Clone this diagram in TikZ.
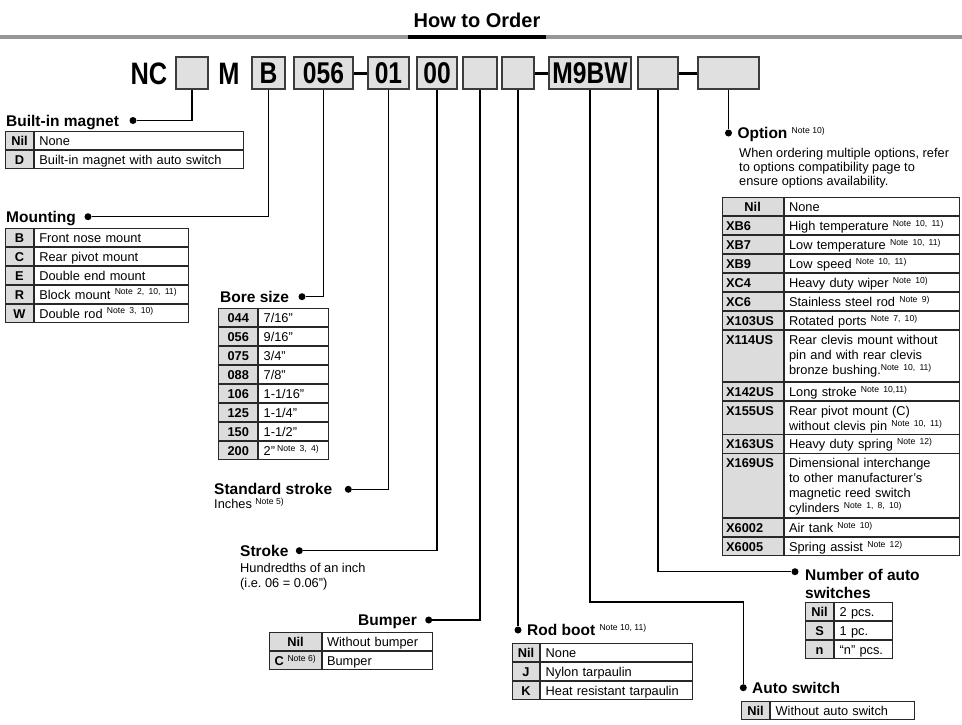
\documentclass[tikz,border=0pt]{standalone}
\usepackage{fontspec}
\setmainfont{Liberation Sans}
\newfontfamily\hdrfont[FakeStretch=0.82]{Liberation Sans}
\usetikzlibrary{positioning}
\definecolor{rulegray}{RGB}{150,150,150}
\definecolor{boxfill}{RGB}{224,224,224}
\definecolor{boxedge}{RGB}{60,60,60}
\definecolor{codegray}{RGB}{220,220,220}
\definecolor{cellline}{RGB}{40,40,40}
\newcommand{\bodysize}{\fontsize{12.8}{15}\selectfont}
\newcommand{\titlesize}{\fontsize{15.5}{18.3}\selectfont}
\newcommand{\notetxt}[1]{\textsuperscript{\fontsize{8.6}{9}\selectfont\mdseries Note #1}}
\frenchspacing

\begin{document}
\begin{tikzpicture}[x=1pt, y=-1pt,
  hdrbox/.style={draw=boxedge, fill=boxfill, line width=1.3, minimum width=#1,
    minimum height=32, inner sep=0, font=\hdrfont\bfseries\fontsize{30}{30}\selectfont},
  hdrtxt/.style={inner sep=0, font=\hdrfont\bfseries\fontsize{31}{31}\selectfont},
  hdrjoin/.style={line width=3},
  link/.style={line width=1.5},
  dot/.style={circle, fill, inner sep=0, minimum size=7},
  title/.style={inner sep=0, font=\titlesize\bfseries},
  plain/.style={inner sep=0, align=left, font=\bodysize},
  cell/.style={draw=cellline, line width=0.9, inner ysep=0, minimum height=18.1, font=\bodysize},
  code/.style={cell, fill=codegray, minimum width=#1, inner xsep=2,
    text height=11, text depth=1, font=\bodysize\bfseries},
  desc/.style={cell, text width=#1, inner xsep=5, align=left, text height=11, text depth=1},
  desctall/.style={cell, text width=#1, inner xsep=5, align=left},
  optcode/.style={cell, fill=codegray, text width=53, inner xsep=4, align=left,
    text height=11, text depth=1, font=\bodysize\bfseries},
  tall/.style 2 args={minimum height=#1, text height=14, text depth=#2},
]
  \path[fill=white, use as bounding box] (0,0) rectangle (962,724);

  % Heading
  \node[font=\bfseries\fontsize{20}{20}\selectfont, inner sep=0] (head) at (477,20) {How to Order};
  \draw[line width=4, rulegray] (0,37) -- (962,37);
  \draw[line width=4] (408,37) -- (546,37);

  % Part number
  \node[hdrtxt] (nc) at (149,74) {NC};
  \node[hdrbox=32] (bmag) at (192,73) {};
  \node[hdrtxt] (m) at (229,74) {M};
  \node[hdrbox=33] (bmnt) at (268.5,73) {B};
  \node[hdrbox=59] (bbore) at (323.5,73) {056};
  \node[hdrbox=41] (bstd) at (388.5,73) {01};
  \node[hdrbox=40] (bstk) at (437,73) {00};
  \node[hdrbox=34] (bbmp) at (480,73) {};
  \node[hdrbox=32] (bboot) at (518,73) {};
  \node[hdrbox=82] (bsw) at (590,73) {M9BW};
  \node[hdrbox=40] (bnum) at (658,73) {};
  \node[hdrbox=61] (bopt) at (728.5,73) {};
  \draw[hdrjoin] (bbore.east) -- (bstd.west);
  \draw[hdrjoin] (bboot.east) -- (bsw.west);
  \draw[hdrjoin] (bnum.east) -- (bopt.west);

  % Bullets
  \node[dot] (dmag) at (133,120.5) {};
  \node[dot] (dmnt) at (88,216.7) {};
  \node[dot] (dbore) at (302,296.7) {};
  \node[dot] (dstd) at (348.3,489.3) {};
  \node[dot] (dstk) at (299.3,550.7) {};
  \node[dot] (dbmp) at (428.7,620) {};
  \node[dot] (dboot) at (518,630) {};
  \node[dot] (dsw) at (743.3,687.7) {};
  \node[dot] (dnum) at (795,571.7) {};
  \node[dot] (dopt) at (728.5,133) {};
  \coordinate (swbend) at (590,602);

  % Leaders
  \draw[link] (bmag.south) |- (dmag);
  \draw[link] (bmnt.south) |- (dmnt);
  \draw[link] (bbore.south) |- (dbore);
  \draw[link] (bstd.south) |- (dstd);
  \draw[link] (bstk.south) |- (dstk);
  \draw[link] (bbmp.south) |- (dbmp);
  \draw[link] (bboot.south) -- (dboot);
  \draw[link] (bsw.south) -- (swbend) -| (dsw);
  \draw[link] (bnum.south) |- (dnum);
  \draw[link] (bopt.south) -- (dopt);

  % Titles
  \node[title, anchor=base west] (tmag) at (6,126.2) {Built-in magnet};
  \node[title, anchor=base west] (tmnt) at (6,222.2) {Mounting};
  \node[title, anchor=base west] (tbore) at (220,302.2) {Bore size};
  \node[title, anchor=base west] (tstd) at (214,494.8) {Standard stroke};
  \node[title, anchor=base west] (tstk) at (240,556.2) {Stroke};
  \node[title, anchor=base east] (tbmp) at (417,625.5) {Bumper};
  \node[title, anchor=base west] (tboot) at (527,635.5) {Rod boot \notetxt{10, 11)}};
  \node[title, anchor=base west] (tsw) at (752,693) {Auto switch};
  \node[title, anchor=base west, align=left] (tnum) at (805,598.8) {Number of auto\\switches};
  \node[title, anchor=base west] (topt) at (737.3,138.5) {Option \notetxt{10)}};

  % Notes
  \node[plain, anchor=base west, font=\fontsize{12.8}{14}\selectfont] (optnote) at (739,185.6)
    {When ordering multiple options, refer\\to options compatibility page to\\ensure options availability.};
  \node[plain, anchor=base west] (stdnote) at (214,508.6) {Inches \notetxt{5)}};
  \node[plain, anchor=base west] (stknote) at (240,587.9) {Hundredths of an inch\\(i.e. 06 = 0.06")};

  % Built-in magnet
  \node[code=28, anchor=north west] (mag1) at (5,131) {Nil};
  \node[desc=199, right=0pt of mag1] {None};
  \node[code=28, below=0pt of mag1] (mag2) {D};
  \node[desc=199, right=0pt of mag2] {Built-in magnet with auto switch};

  % Mounting
  \node[code=28, anchor=north west] (mnt1) at (5,227.7) {B};
  \node[desc=144, right=0pt of mnt1] {Front nose mount};
  \node[code=28, below=0pt of mnt1] (mnt2) {C};
  \node[desc=144, right=0pt of mnt2] {Rear pivot mount};
  \node[code=28, below=0pt of mnt2] (mnt3) {E};
  \node[desc=144, right=0pt of mnt3] {Double end mount};
  \node[code=28, below=0pt of mnt3] (mnt4) {R};
  \node[desc=144, right=0pt of mnt4] {Block mount \notetxt{2, 10, 11)}};
  \node[code=28, below=0pt of mnt4] (mnt5) {W};
  \node[desc=144, right=0pt of mnt5] {Double rod \notetxt{3, 10)}};

  % Bore size
  \node[code=39, anchor=north west] (bore1) at (218.3,308.3) {044};
  \node[desc=59.4, right=0pt of bore1] {7/16"};
  \node[code=39, below=0pt of bore1] (bore2) {056};
  \node[desc=59.4, right=0pt of bore2] {9/16"};
  \node[code=39, below=0pt of bore2] (bore3) {075};
  \node[desc=59.4, right=0pt of bore3] {3/4"};
  \node[code=39, below=0pt of bore3] (bore4) {088};
  \node[desc=59.4, right=0pt of bore4] {7/8"};
  \node[code=39, below=0pt of bore4] (bore5) {106};
  \node[desc=59.4, right=0pt of bore5] {1-1/16"};
  \node[code=39, below=0pt of bore5] (bore6) {125};
  \node[desc=59.4, right=0pt of bore6] {1-1/4"};
  \node[code=39, below=0pt of bore6] (bore7) {150};
  \node[desc=59.4, right=0pt of bore7] {1-1/2"};
  \node[code=39, below=0pt of bore7] (bore8) {200};
  \node[desc=59.4, right=0pt of bore8] {2"\,\notetxt{3, 4)}};

  % Bumper
  \node[code=51.4, anchor=north west] (bmp1) at (269.3,632) {Nil};
  \node[desc=100.3, right=0pt of bmp1] {Without bumper};
  \node[code=51.4, below=0pt of bmp1] (bmp2) {C \notetxt{6)}};
  \node[desc=100.3, right=0pt of bmp2] {Bumper};

  % Rod boot
  \node[code=27.6, anchor=north west] (boot1) at (511.7,643.3) {Nil};
  \node[desc=141.7, right=0pt of boot1] {None};
  \node[code=27.6, below=0pt of boot1] (boot2) {J};
  \node[desc=141.7, right=0pt of boot2] {Nylon tarpaulin};
  \node[code=27.6, below=0pt of boot2] (boot3) {K};
  \node[desc=141.7, right=0pt of boot3] {Heat resistant tarpaulin};

  % Number of auto switches
  \node[code=28.3, anchor=north west] (num1) at (805,601.7) {Nil};
  \node[desc=47.7, right=0pt of num1] {2 pcs.};
  \node[code=28.3, below=0pt of num1] (num2) {S};
  \node[desc=47.7, right=0pt of num2] {1 pc.};
  \node[code=28.3, below=0pt of num2] (num3) {n};
  \node[desc=47.7, right=0pt of num3] {``n'' pcs.};

  % Auto switch
  \node[code=28.6, anchor=north west] (sw1) at (740.7,700.7) {Nil};
  \node[desc=134, right=0pt of sw1] {Without auto switch};

  % Option
  \node[optcode, align=center, anchor=north west] (opt1) at (721.7,197.3) {Nil};
  \node[desc=165.6, right=0pt of opt1] {None};
  \node[optcode, below=0pt of opt1] (opt2) {XB6};
  \node[desc=165.6, right=0pt of opt2] {High temperature \notetxt{10, 11)}};
  \node[optcode, below=0pt of opt2] (opt3) {XB7};
  \node[desc=165.6, right=0pt of opt3] {Low temperature \notetxt{10, 11)}};
  \node[optcode, below=0pt of opt3] (opt4) {XB9};
  \node[desc=165.6, right=0pt of opt4] {Low speed \notetxt{10, 11)}};
  \node[optcode, below=0pt of opt4] (opt5) {XC4};
  \node[desc=165.6, right=0pt of opt5] {Heavy duty wiper \notetxt{10)}};
  \node[optcode, below=0pt of opt5] (opt6) {XC6};
  \node[desc=165.6, right=0pt of opt6] {Stainless steel rod \notetxt{9)}};
  \node[optcode, below=0pt of opt6] (opt7) {X103US};
  \node[desc=165.6, right=0pt of opt7] {Rotated ports \notetxt{7, 10)}};
  \node[optcode, tall={51}{37}, below=0pt of opt7] (opt8) {X114US};
  \node[desctall=165.6, tall={51}{37}, right=0pt of opt8]
    {Rear clevis mount without\\pin and with rear clevis\\bronze bushing.\notetxt{10, 11)}};
  \node[optcode, below=0pt of opt8] (opt9) {X142US};
  \node[desc=165.6, right=0pt of opt9] {Long stroke \notetxt{10,11)}};
  \node[optcode, tall={32.3}{18.3}, below=0pt of opt9] (opt10) {X155US};
  \node[desctall=165.6, tall={32.3}{18.3}, right=0pt of opt10]
    {Rear pivot mount (C)\\without clevis pin \notetxt{10, 11)}};
  \node[optcode, below=0pt of opt10] (opt11) {X163US};
  \node[desc=165.6, right=0pt of opt11] {Heavy duty spring \notetxt{12)}};
  \node[optcode, tall={64}{50}, below=0pt of opt11] (opt12) {X169US};
  \node[desctall=165.6, tall={64}{50}, right=0pt of opt12]
    {Dimensional interchange\\to other manufacturer's\\magnetic reed switch\\cylinders \notetxt{1, 8, 10)}};
  \node[optcode, below=0pt of opt12] (opt13) {X6002};
  \node[desc=165.6, right=0pt of opt13] {Air tank \notetxt{10)}};
  \node[optcode, below=0pt of opt13] (opt14) {X6005};
  \node[desc=165.6, right=0pt of opt14] {Spring assist \notetxt{12)}};
\end{tikzpicture}
\end{document}
